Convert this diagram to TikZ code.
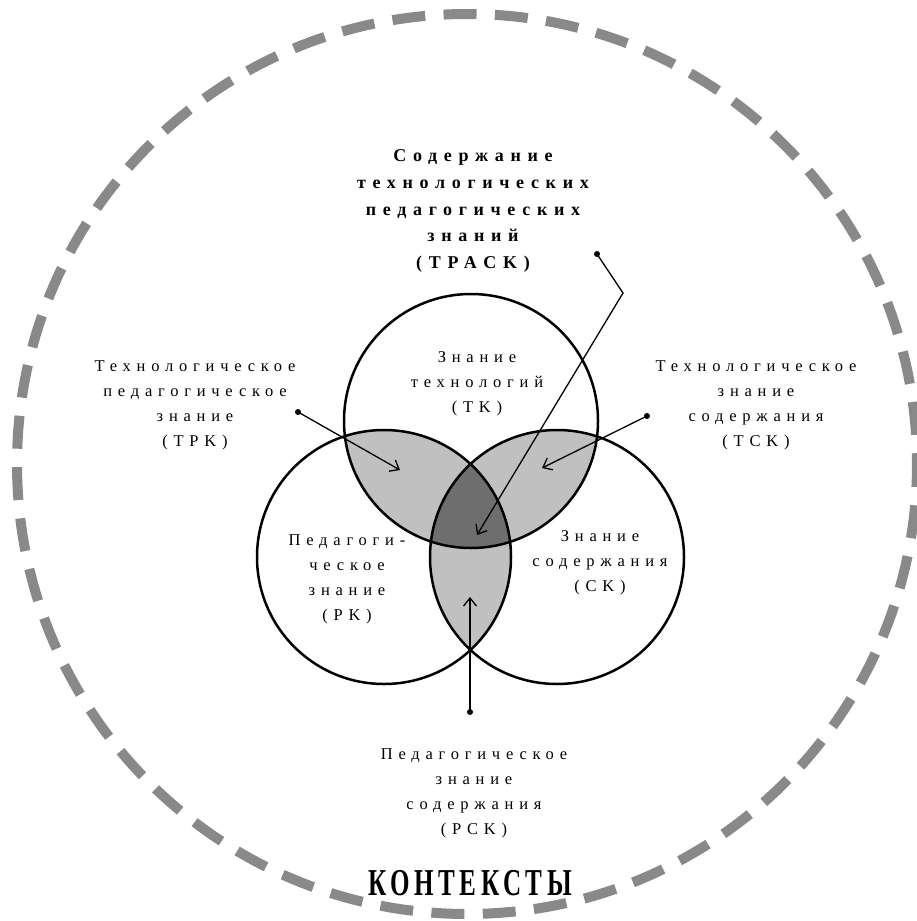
\documentclass[tikz,border=0pt]{standalone}
\usepackage{fontspec}
\setmainfont{Liberation Serif}
\newfontfamily\lblfont[LetterSpace=35]{Liberation Serif}
\newfontfamily\ttlfont[LetterSpace=37]{Liberation Serif}
\newfontfamily\ctxfont[FakeStretch=0.66,LetterSpace=12]{Liberation Serif}
\usetikzlibrary{arrows.meta}
\definecolor{ctxgray}{HTML}{898989}
\definecolor{pairgray}{HTML}{C0C0C0}
\definecolor{coregray}{HTML}{6E6E6E}
\tikzset{
  lbl/.style={align=center,inner sep=0pt,font=\lblfont\fontsize{16.5}{25}\selectfont},
  ttl/.style={align=center,inner sep=0pt,font=\ttlfont\bfseries\fontsize{18}{26.7}\selectfont},
  pointer/.style={line width=1.3pt,-{Straight Barb[length=8pt,width=13pt]}},
}
\begin{document}
\begin{tikzpicture}[x=1pt,y=-1pt,line cap=round]
		\useasboundingbox (0,0) rectangle (917,921);
		\coordinate (tk) at (471,421);
		\coordinate (pk) at (384,557);
		\coordinate (ck) at (557,557);
		% context ring
		\draw[ctxgray,line width=10pt,line cap=butt,dash pattern=on 33pt off 18.4pt,dash phase=10pt] (467,464) circle (450);
		% overlaps
		\begin{scope}
			\clip (tk) circle (127);
			\fill[pairgray] (pk) circle (127);
			\fill[pairgray] (ck) circle (127);
		\end{scope}
		\begin{scope}
			\clip (pk) circle (127);
			\fill[pairgray] (ck) circle (127);
		\end{scope}
		\begin{scope}
			\clip (tk) circle (127);
			\clip (pk) circle (127);
			\fill[coregray] (ck) circle (127);
		\end{scope}
		\draw[line width=2.5pt] (tk) circle (127) (pk) circle (127) (ck) circle (127);
		% labels
		\node[ttl] (tpack) at (473,211) {Содержание\\технологических\\педагогических\\знаний\\(TPACK)};
		\node[lbl] (tklbl) at (477,384) {Знание\\технологий\\(TK)};
		\node[lbl] (pklbl) at (347,579) {Педагоги-\\ческое\\знание\\(PK)};
		\node[lbl] (cklbl) at (600,563) {Знание\\содержания\\(CK)};
		\node[lbl] (tpklbl) at (195,405) {Технологическое\\педагогическое\\знание\\(TPK)};
		\node[lbl] (tcklbl) at (756,405) {Технологическое\\знание\\содержания\\(TCK)};
		\node[lbl] (pcklbl) at (474,793) {Педагогическое\\знание\\содержания\\(PCK)};
		\node[font=\ctxfont\bfseries\fontsize{38}{38}\selectfont,inner sep=0pt] (ctx) at (470,883) {КОНТЕКСТЫ};
		% pointers
		\fill (597,254) circle (3) coordinate (tpackdot);
		\fill (298,412) circle (3) coordinate (tpkdot);
		\fill (647,416) circle (3) coordinate (tckdot);
		\fill (470,712) circle (3) coordinate (pckdot);
		\coordinate (tpackbend) at (623,293);
		\coordinate (tpacktip) at (477,535);
		\coordinate (tpktip) at (400,470);
		\coordinate (tcktip) at (542,468);
		\coordinate (pcktip) at (470,597);
		\draw[pointer] (tpackdot) -- (tpackbend) -- (tpacktip);
		\draw[pointer] (tpkdot) -- (tpktip);
		\draw[pointer] (tckdot) -- (tcktip);
		\draw[pointer] (pckdot) -- (pcktip);
	\end{tikzpicture}
\end{document}
